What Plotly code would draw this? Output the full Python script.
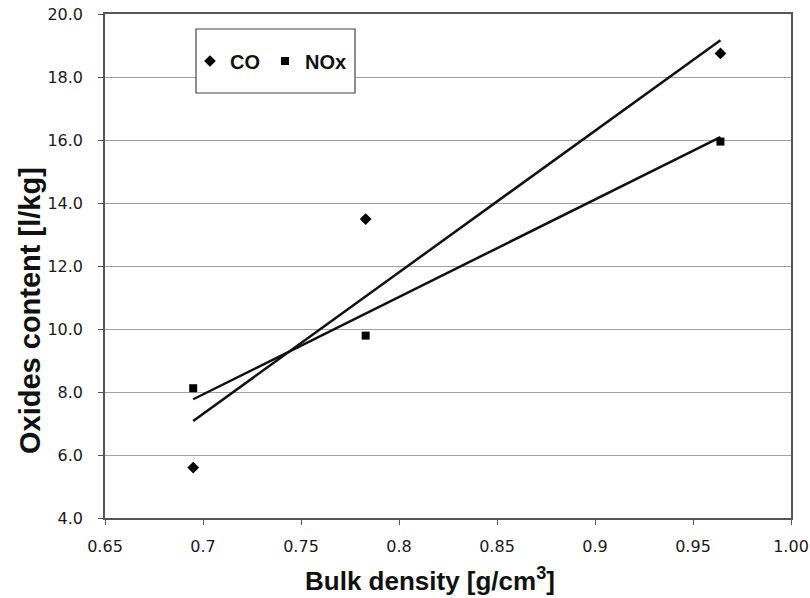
import plotly.graph_objects as go

# Data
density = [0.695, 0.783, 0.964]
co_values = [5.60, 13.49, 18.75]
nox_values = [8.12, 9.79, 15.95]

trend_x = [0.695, 0.964]
co_trend = [7.08, 19.17]
nox_trend = [7.77, 16.09]

x_tickvals = [0.65, 0.7, 0.75, 0.8, 0.85, 0.9, 0.95, 1.00]
x_ticktext = ["0.65", "0.7", "0.75", "0.8", "0.85", "0.9", "0.95", "1.00"]
y_tickvals = [4, 6, 8, 10, 12, 14, 16, 18, 20]
y_ticktext = ["4.0", "6.0", "8.0", "10.0", "12.0", "14.0", "16.0", "18.0", "20.0"]

fig = go.Figure()

fig.add_trace(go.Scatter(x=trend_x, y=co_trend, mode="lines",
                         line=dict(color="#111111", width=2.5), showlegend=False))
fig.add_trace(go.Scatter(x=trend_x, y=nox_trend, mode="lines",
                         line=dict(color="#111111", width=2.5), showlegend=False))
fig.add_trace(go.Scatter(x=density, y=co_values, mode="markers", name="CO",
                         marker=dict(symbol="diamond", size=9, color="#000000")))
fig.add_trace(go.Scatter(x=density, y=nox_values, mode="markers", name="NOx",
                         marker=dict(symbol="square", size=8, color="#000000")))

W, H = 810, 598
ml, mr, mt, mb = 105, 19, 14, 80
pw, ph = W - ml - mr, H - mt - mb

def px_x(p):
    return (p - ml) / pw

def px_y(p):
    return (H - mb - p) / ph

# legend box
fig.add_shape(type="rect", xref="paper", yref="paper",
              x0=px_x(196), x1=px_x(355), y0=px_y(93), y1=px_y(29),
              line=dict(color="#444444", width=1.2), fillcolor="white", layer="above")

title_font = "Liberation Sans, Arial, sans-serif"
fig.add_annotation(text="<b>Oxides content [l/kg]</b>", xref="paper", yref="paper",
                   x=px_x(30), y=px_y(311), xanchor="center", yanchor="middle",
                   textangle=-90, showarrow=False,
                   font=dict(size=29, family=title_font, color="#111111"))
fig.add_annotation(text="<b>Bulk density [g/cm<sup>3</sup>]</b>", xref="paper", yref="paper",
                   x=px_x(430), y=px_y(579), xanchor="center", yanchor="middle",
                   showarrow=False,
                   font=dict(size=26, family=title_font, color="#111111"))

tick_font = dict(size=16, family="DejaVu Sans, sans-serif", color="#1a1a1a")

fig.update_layout(
    width=W, height=H,
    margin=dict(l=ml, r=mr, t=mt, b=mb, autoexpand=False),
    paper_bgcolor="white", plot_bgcolor="white",
    font=dict(family=title_font, color="#111111"),
    legend=dict(orientation="h", x=px_x(190), y=px_y(61), yanchor="middle", xanchor="left",
                bgcolor="rgba(0,0,0,0)", borderwidth=0,
                font=dict(size=20, family=title_font, weight="bold", color="#111111"),
                itemwidth=30, traceorder="normal"),
    xaxis=dict(range=[0.65, 1.00], tickvals=x_tickvals, ticktext=x_ticktext,
               showgrid=False, zeroline=False, automargin=False,
               showline=True, linecolor="#555555", linewidth=1.5, mirror=True,
               ticks="outside", ticklen=5, tickcolor="#555555",
               ticklabelstandoff=8, tickfont=tick_font),
    yaxis=dict(range=[4, 20], tickvals=y_tickvals, ticktext=y_ticktext,
               showgrid=True, gridcolor="#a0a0a0", gridwidth=1.2, zeroline=False,
               automargin=False,
               showline=True, linecolor="#555555", linewidth=1.5, mirror=True,
               ticks="outside", ticklen=5, tickcolor="#555555",
               ticklabelstandoff=12, tickfont=tick_font),
)

fig.write_html("out.html", config={"displayModeBar": False},
               post_script="document.body.style.margin='0';")
